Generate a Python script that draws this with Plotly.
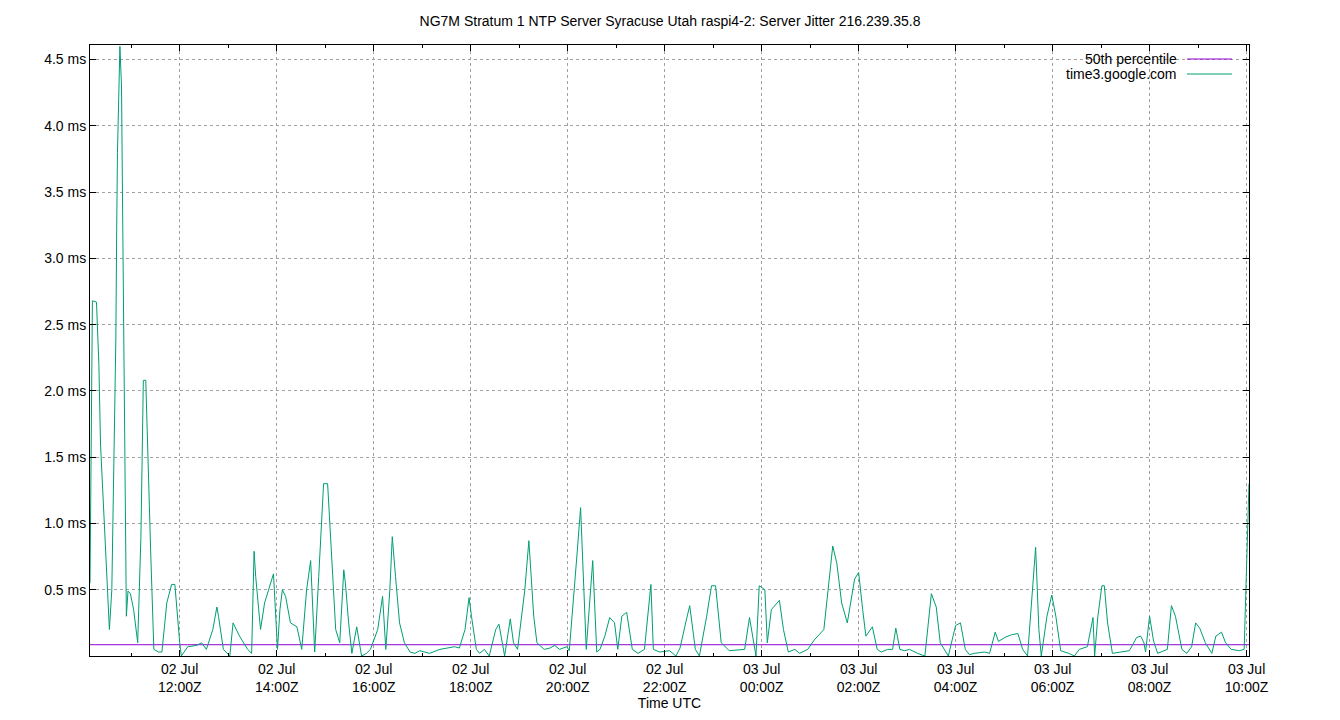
import plotly.graph_objects as go
import pandas as pd

# minutes after 2024-07-02 10:00Z
minutes = [9,10,12,17,20,22,25,27,30,33,36,38,41,42,43,46,48,49,51,53,54,56,59,63,68,72,74,75,78,80,84,88,94,98,104,110,114,120,122,130,141,147,153,161,166,168,174,182,186,194,204,209,212,214,220,225,231,236,241,244,247,251,257,265,271,277,282,285,287,292,298,303,309,313,318,323,325,329,333,339,345,351,356,365,371,375,380,383,387,392,398,405,411,417,429,442,460,466,473,478,481,487,491,497,503,511,515,521,522,529,533,538,547,552,558,562,571,578,584,590,599,602,607,612,616,620,623,631,636,640,646,652,658,662,667,673,680,687,695,703,706,714,726,734,739,746,751,758,763,772,778,783,790,800,813,819,825,829,833,837,844,847,852,862,867,873,881,887,897,905,917,928,933,939,946,955,960,965,969,977,983,988,996,1002,1006,1011,1017,1023,1033,1042,1050,1056,1061,1071,1080,1086,1092,1097,1103,1116,1122,1129,1133,1141,1149,1157,1163,1169,1174,1179,1183,1186,1193,1199,1204,1210,1220,1227,1233,1243,1250,1252,1256,1261,1264,1268,1274,1283,1295,1304,1309,1313,1315,1320,1325,1330,1342,1347,1352,1360,1366,1372,1377,1382,1389,1397,1402,1409,1414,1421,1431,1437,1440,1443]
jitter_ms = [0.55,1.4,2.68,2.67,2.2,1.6,1.2,0.9,0.6,0.2,0.5,1.3,2.4,3.2,3.8,4.6,4.3,3.6,2.4,1.0,0.3,0.49,0.47,0.35,0.1,0.9,1.6,2.08,2.08,1.6,0.8,0.05,0.03,0.03,0.4,0.54,0.54,0.1,0.0,0.07,0.08,0.1,0.05,0.2,0.37,0.3,0.05,0.0,0.25,0.15,0.05,0.02,0.79,0.6,0.2,0.4,0.52,0.62,0.05,0.35,0.5,0.45,0.25,0.22,0.05,0.5,0.72,0.3,0.03,0.6,1.3,1.3,0.6,0.2,0.1,0.65,0.55,0.25,0.02,0.22,0.0,0.02,0.05,0.2,0.45,0.05,0.5,0.9,0.6,0.25,0.1,0.03,0.02,0.04,0.02,0.05,0.07,0.06,0.2,0.44,0.3,0.05,0.02,0.05,0.0,0.2,0.24,0.05,0.0,0.28,0.1,0.05,0.5,0.87,0.3,0.1,0.05,0.06,0.08,0.05,0.07,0.04,0.4,0.8,1.12,0.5,0.05,0.72,0.03,0.05,0.15,0.29,0.25,0.05,0.3,0.33,0.05,0.02,0.05,0.54,0.05,0.03,0.04,0.0,0.06,0.25,0.38,0.05,0.0,0.3,0.53,0.53,0.1,0.04,0.05,0.05,0.29,0.15,0.0,0.53,0.5,0.1,0.35,0.42,0.2,0.03,0.05,0.02,0.05,0.12,0.2,0.83,0.7,0.4,0.25,0.58,0.63,0.35,0.15,0.22,0.05,0.03,0.05,0.05,0.21,0.05,0.04,0.05,0.02,0.0,0.47,0.37,0.1,0.0,0.23,0.25,0.05,0.01,0.02,0.03,0.02,0.18,0.11,0.14,0.16,0.17,0.05,0.0,0.4,0.82,0.2,0.0,0.3,0.46,0.3,0.04,0.02,0.0,0.05,0.07,0.29,0.0,0.3,0.53,0.53,0.25,0.02,0.03,0.04,0.14,0.15,0.1,0.03,0.3,0.11,0.02,0.05,0.38,0.3,0.05,0.02,0.07,0.25,0.21,0.1,0.02,0.15,0.18,0.1,0.05,0.04,0.05,0.6,1.3]
p50_ms = 0.085
y_ticks = [0.5,1.0,1.5,2.0,2.5,3.0,3.5,4.0,4.5]
x_tick_hours = ["2024-07-02 12:00","2024-07-02 14:00","2024-07-02 16:00","2024-07-02 18:00","2024-07-02 20:00","2024-07-02 22:00","2024-07-03 00:00","2024-07-03 02:00","2024-07-03 04:00","2024-07-03 06:00","2024-07-03 08:00","2024-07-03 10:00"]

base = pd.Timestamp("2024-07-02 10:00")
times = [base + pd.Timedelta(minutes=m) for m in minutes]
x0 = base + pd.Timedelta(minutes=9)
x1 = base + pd.Timedelta(minutes=1443)

fig = go.Figure()
fig.add_trace(go.Scatter(x=[x0, x1], y=[p50_ms, p50_ms], mode="lines",
                         line=dict(color="#9400d3", width=1), name="50th percentile"))
fig.add_trace(go.Scatter(x=times, y=jitter_ms, mode="lines",
                         line=dict(color="#009e73", width=1), name="time3.google.com"))

ticktext = [pd.Timestamp(t).strftime("%d %b<br>%H:%MZ") for t in x_tick_hours]
font = dict(family="Liberation Sans, Arial, sans-serif", size=14, color="black")
L, R, T, B = 82, 99, 37, 72
PW, PH = 1159, 611
fig.update_layout(
    width=1340, height=720, plot_bgcolor="white", paper_bgcolor="white",
    margin=dict(l=L, r=R, t=T, b=B), showlegend=False, font=font,
    title=dict(text="NG7M Stratum 1 NTP Server Syracuse Utah raspi4-2: Server Jitter 216.239.35.8",
               x=(1340 / 2 - 8 - L + L) / 1340 + 0.0, xanchor="center", y=1 - 13 / 720, yanchor="middle",
               font=dict(size=14)),
    xaxis=dict(range=[x0, x1], tickvals=x_tick_hours, ticktext=ticktext,
               showgrid=True, gridcolor="#a0a0a0", griddash="dot", gridwidth=1,
               ticks="inside", ticklen=6, tickcolor="black", mirror="ticks",
               showline=True, linecolor="black", linewidth=1,
               minor=dict(dtick=3600000, ticks="inside", ticklen=3, tickcolor="black", showgrid=False),
               title=dict(text="Time UTC", standoff=4, font=dict(size=14)), zeroline=False),
    yaxis=dict(range=[0, 4.61], tickvals=y_ticks, ticktext=[f"{v:.1f} ms" for v in y_ticks],
               showgrid=True, gridcolor="#a0a0a0", griddash="dot", gridwidth=1,
               ticks="inside", ticklen=6, tickcolor="black", mirror="ticks",
               showline=True, linecolor="black", linewidth=1, zeroline=False),
)
# gnuplot-style legend: text then line sample
for i, (name, col) in enumerate([("50th percentile", "#9400d3"), ("time3.google.com", "#009e73")]):
    yp = (656 - (59 + 15 * i)) / PH
    fig.add_annotation(xref="paper", yref="paper", x=(1179 - 90) / PW, y=yp, text=name,
                       showarrow=False, xanchor="right", yanchor="middle", font=font)
    fig.add_shape(type="line", xref="paper", yref="paper", x0=(1187 - 90) / PW, x1=(1232 - 90) / PW,
                  y0=yp, y1=yp, line=dict(color=col, width=1))
fig.write_html("out.html")
